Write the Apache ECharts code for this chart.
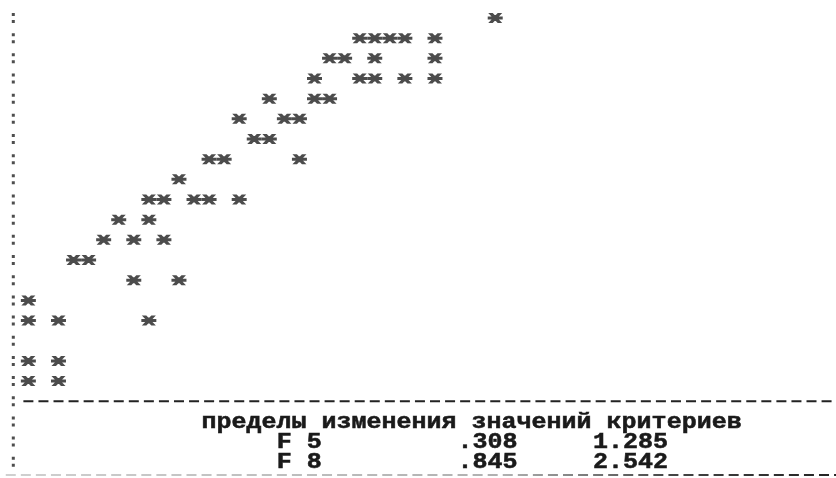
<!DOCTYPE html>
<html>
<head>
<meta charset="utf-8">
<style>
html,body{margin:0;padding:0;background:#fff;}
#chart{width:836px;height:478px;}
</style>
<script src="https://cdn.jsdelivr.net/npm/echarts@6/dist/echarts.min.js"></script>
</head>
<body>
<div id="chart"></div>
<script>
// ---- data (character grid: column, row) ----
const plotRows = [0,1,2,3,4,5,6,7,8,9,10,11,12,13,14,15,16,17,18];
const starColumns = [
  [32],
  [23,24,25,26,28],
  [21,22,24,28],
  [20,23,24,26,28],
  [17,20,21],
  [15,18,19],
  [16,17],
  [13,14,19],
  [11],
  [9,10,12,13,15],
  [7,9],
  [6,8,10],
  [4,5],
  [8,11],
  [1],
  [1,3,9],
  [],
  [1,3],
  [1,3]
];
const colonRows = [0,1,2,3,4,5,6,7,8,9,10,11,12,13,14,15,16,17,18,19,20,21,22];
const separatorRow = 19;
const bottomRuleRow = 22.66;
const noteTitle = 'пределы изменения значений критериев';
const critNames = ['F 5', 'F 8'];
const critMin = ['.308', '.845'];
const critMax = ['1.285', '2.542'];

// ---- layout of the character grid ----
const X0 = 13.3, CW = 15.06, Y0 = 18, RH = 20.17, WIDTH = 836, HEIGHT = 478;
const xMin = -X0 / CW, xMax = (WIDTH - X0) / CW;
const yMin = -Y0 / RH, yMax = (HEIGHT - Y0) / RH;

const starData = [];
plotRows.forEach((r, i) => starColumns[i].forEach(c => starData.push([c, r])));
const colonData = colonRows.map(r => [0, r]);

const starPath = 'path://M0 7 L30 7 L30 13 L0 13 Z M1 0 L10 0 L29 20 L20 20 Z M20 0 L29 0 L10 20 L1 20 Z M9 4 L21 4 L21 16 L9 16 Z';
const colonPath = 'path://M0 0 L3 0 L3 3 L0 3 Z M0 7 L3 7 L3 10 L0 10 Z';

const chart = echarts.init(document.getElementById('chart'), null, {renderer: 'canvas'});
chart.setOption({
  animation: false,
  backgroundColor: '#ffffff',
  grid: {left: 0, right: 0, top: 0, bottom: 0},
  xAxis: {type: 'value', min: xMin, max: xMax, show: false},
  yAxis: {type: 'value', min: yMin, max: yMax, inverse: true, show: false},
  series: [
    {
      name: 'colons', type: 'scatter', data: colonData,
      symbol: colonPath, symbolSize: [3, 10],
      itemStyle: {color: '#222222'}, silent: true
    },
    {
      name: 'F5 x F8', type: 'scatter', data: starData,
      symbol: starPath, symbolSize: [15, 10],
      itemStyle: {color: '#1f1f1f'}
    },
    {
      name: 'separator', type: 'line', data: [[0.67, separatorRow], [xMax, separatorRow]],
      symbol: 'none', lineStyle: {color: '#222222', width: 2.2, type: [10, 5.06]}, silent: true
    },
    {
      name: 'bottom rule', type: 'line', data: [[-0.5, bottomRuleRow], [xMax, bottomRuleRow]],
      symbol: 'none',
      lineStyle: {
        width: 2, type: [10, 5.06],
        color: {type: 'linear', x: 0, y: 0, x2: 1, y2: 0, colorStops: [
          {offset: 0, color: '#d0d0d0'}, {offset: 0.6, color: '#b0b0b0'},
          {offset: 0.8, color: '#444'}, {offset: 1, color: '#222'}]}
      },
      silent: true
    }
  ]
});

function txt(str, col, row) {
  const p = chart.convertToPixel({gridIndex: 0}, [col - 0.5, row]);
  return {
    type: 'text', x: p[0], y: p[1] + 1, scaleY: 0.9, silent: true,
    style: {
      text: str, fontSize: 25, fontFamily: 'Liberation Mono', fontWeight: 'bold',
      fill: '#1a1a1a', stroke: '#1a1a1a', lineWidth: 0.6,
      align: 'left', verticalAlign: 'middle'
    }
  };
}
const g = [txt(noteTitle, 13, 20)];
critNames.forEach((n, i) => {
  g.push(txt(n, 18, 21 + i));
  g.push(txt(critMin[i], 30, 21 + i));
  g.push(txt(critMax[i], 39, 21 + i));
});
chart.setOption({graphic: g});
</script>
</body>
</html>
